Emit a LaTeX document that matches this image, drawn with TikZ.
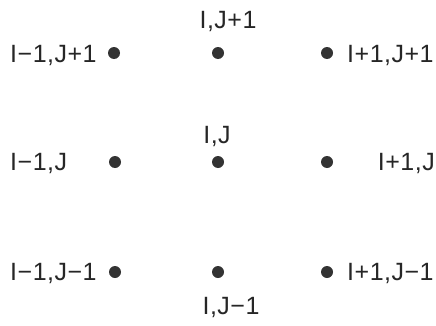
\documentclass[tikz,border=0pt]{standalone}
\usepackage{fontspec}
\setmainfont{Liberation Sans}[LetterSpace=2]
\begin{document}
\begin{tikzpicture}[x=1pt,y=1pt,
  pt/.style={circle,fill=black!80,inner sep=0pt,minimum size=12pt},
  lbl/.style={inner sep=0pt,font=\fontsize{25}{28}\selectfont,text=black!85}]
\useasboundingbox (0,0) rectangle (436,325);
% dots
\node[pt] (a1) at (114,272) {};
\node[pt] (a2) at (218,272) {};
\node[pt] (a3) at (327,272) {};
\node[pt] (b1) at (115,163) {};
\node[pt] (b2) at (218,163) {};
\node[pt] (b3) at (327,163) {};
\node[pt] (c1) at (115,53) {};
\node[pt] (c2) at (218,53) {};
\node[pt] (c3) at (327,53) {};
% labels
\node[lbl,anchor=base] (la2) at (228,297) {I,J+1};
\node[lbl,anchor=base west] (la1) at (10,263) {I\textminus1,J+1};
\node[lbl,anchor=base west] (la3) at (347,263) {I+1,J+1};
\node[lbl,anchor=base] (lb2) at (217,182) {I,J};
\node[lbl,anchor=base west] (lb1) at (10,154.5) {I\textminus1,J};
\node[lbl,anchor=base east] (lb3) at (435,154.5) {I+1,J};
\node[lbl,anchor=base west] (lc1) at (10,44.5) {I\textminus1,J\textminus1};
\node[lbl,anchor=base west] (lc3) at (347,44.5) {I+1,J\textminus1};
\node[lbl,anchor=base] (lc2) at (231,11) {I,J\textminus1};
\end{tikzpicture}
\end{document}
